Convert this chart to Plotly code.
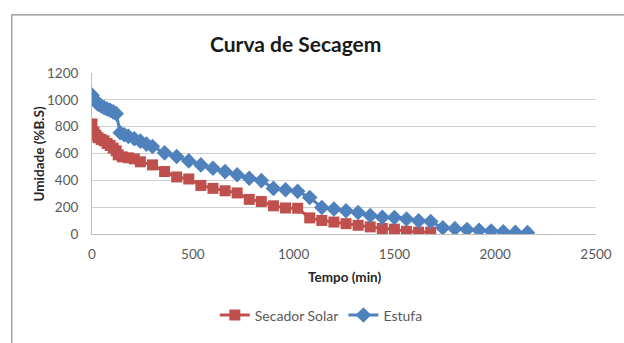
import plotly.graph_objects as go

# Drying curve data: time (min) vs moisture (% dry basis)
solar_time = [0, 10, 20, 30, 45, 60, 75, 90, 105, 120, 130, 150, 180, 210, 240,
              300, 360, 420, 480, 540, 600, 660, 720, 780, 840, 900, 960, 1020,
              1080, 1140, 1200, 1260, 1320, 1380, 1440, 1500, 1560, 1620, 1680]
solar_moisture = [820, 760, 735, 718, 705, 695, 675, 660, 640, 620, 590, 575, 568, 560, 538,
                  515, 466, 425, 410, 362, 340, 322, 306, 258, 242, 210, 194, 192,
                  120, 101, 89, 77, 65, 53, 41, 36, 20, 14, 14]

oven_time = [0, 10, 20, 30, 45, 60, 75, 90, 105, 120, 140, 160, 180, 210, 240, 270,
             300, 360, 420, 480, 540, 600, 660, 720, 780, 840, 900, 960, 1020,
             1080, 1140, 1200, 1260, 1320, 1380, 1440, 1500, 1560, 1620, 1680,
             1740, 1800, 1860, 1920, 1980, 2040, 2100, 2160]
oven_moisture = [1035, 1005, 985, 968, 955, 942, 932, 922, 910, 897, 755, 740, 728, 710, 692, 670,
                 652, 605, 578, 545, 515, 490, 465, 442, 415, 398, 340, 330, 318,
                 272, 198, 186, 173, 160, 138, 125, 123, 112, 98, 93,
                 46, 40, 34, 28, 22, 17, 12, 10]

x_ticks = [0, 500, 1000, 1500, 2000, 2500]
y_ticks = [0, 200, 400, 600, 800, 1000, 1200]

RED = "#c0504d"
BLUE = "#4f81bd"
FONT = "Lato"
TEXT_GRAY = "#595959"

fig = go.Figure()
fig.add_trace(go.Scatter(
    x=solar_time, y=solar_moisture, name="Secador Solar",
    mode="lines+markers",
    line=dict(color=RED, width=3),
    marker=dict(symbol="square", size=11, color=RED),
))
fig.add_trace(go.Scatter(
    x=oven_time, y=oven_moisture, name="Estufa",
    mode="lines+markers",
    line=dict(color=BLUE, width=3),
    marker=dict(symbol="diamond", size=12, color=BLUE),
))

fig.update_layout(
    width=624, height=343,
    margin=dict(l=92, r=17, t=73, b=104),
    paper_bgcolor="white",
    plot_bgcolor="white",
    font=dict(family=FONT, size=13, color=TEXT_GRAY),
    showlegend=True,
    legend=dict(
        orientation="h", x=0.455, xanchor="center", y=-0.506, yanchor="middle",
        font=dict(family=FONT, size=14, color=TEXT_GRAY),
        itemwidth=30,
    ),
    xaxis=dict(
        range=[0, 2500], tickvals=x_ticks, ticktext=[str(v) for v in x_ticks],
        showgrid=False, zeroline=False,
        showline=True, linecolor="#bfbfbf", linewidth=1,
        ticks="", ticklabelstandoff=8,
        tickfont=dict(family=FONT, size=13.5, color=TEXT_GRAY),
    ),
    yaxis=dict(
        range=[0, 1200], tickvals=y_ticks, ticktext=[str(v) for v in y_ticks],
        showgrid=True, gridcolor="#d0d0d0", gridwidth=1,
        zeroline=False,
        showline=True, linecolor="#bfbfbf", linewidth=1,
        ticks="", ticklabelstandoff=10,
        tickfont=dict(family=FONT, size=13.5, color=TEXT_GRAY),
    ),
    shapes=[
        dict(type="rect", xref="paper", yref="paper",
             x0=-0.1592, x1=1.06, y0=-0.70, y1=1.3614,
             line=dict(color="#8c8c8c", width=1.2), layer="below"),
    ],
    annotations=[
        dict(text="<b>Curva de Secagem</b>", xref="paper", yref="paper",
             x=0.404, y=1.185, xanchor="center", yanchor="middle", showarrow=False,
             font=dict(family=FONT, size=21, color="#1a1a1a")),
        dict(text="<b>Umidade (%B.S)</b>", xref="paper", yref="paper",
             x=-0.105, y=0.494, xanchor="center", yanchor="middle", showarrow=False,
             textangle=-90, font=dict(family=FONT, size=13.5, color="#262626")),
        dict(text="<b>Tempo (min)</b>", xref="paper", yref="paper",
             x=0.5, y=-0.265, xanchor="center", yanchor="middle", showarrow=False,
             font=dict(family=FONT, size=13.5, color="#262626")),
    ],
)

fig.write_html("out.html")
